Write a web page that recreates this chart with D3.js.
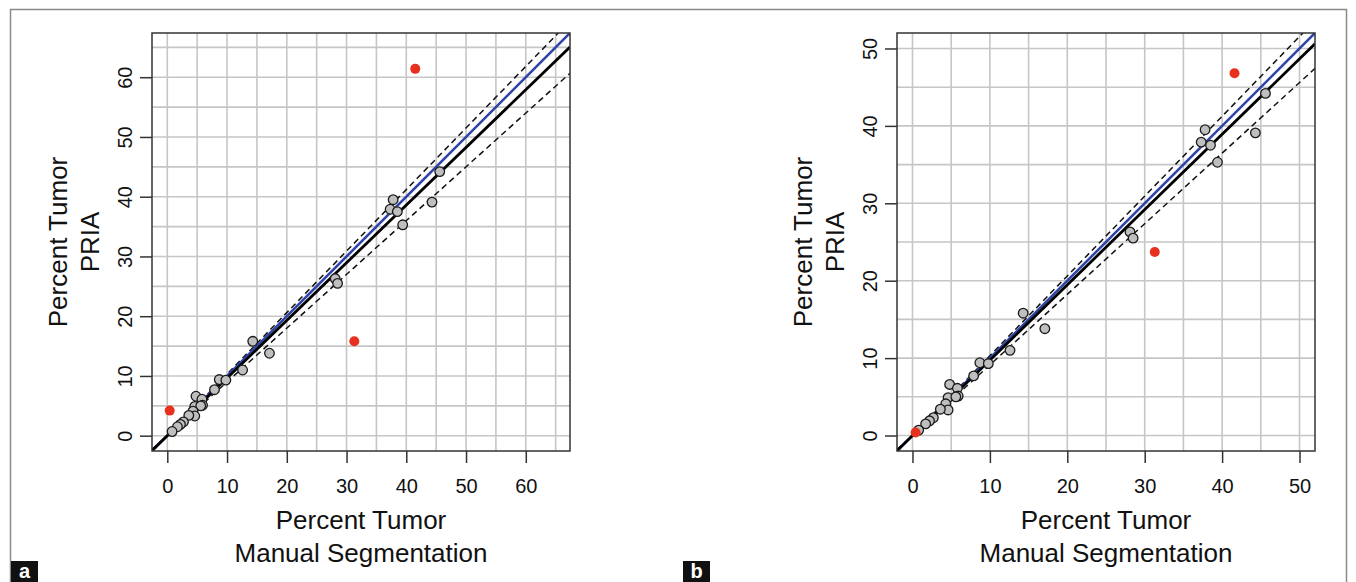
<!DOCTYPE html>
<html>
<head>
<meta charset="utf-8">
<script src="https://cdn.jsdelivr.net/npm/d3@7"></script>
<style>
  body { margin: 0; background: #fff; }
  svg { display: block; font-family: "Liberation Sans", Arial, sans-serif; }
</style>
</head>
<body>
<div id="chart"></div>
<script>
// points shared by both panels (manual segmentation vs PRIA, percent tumor)
var grayManual = [45.6, 44.3, 37.8, 37.3, 38.5, 39.4, 28.1, 28.5, 14.3, 17.1, 12.6, 8.7, 9.8, 7.9, 4.8, 5.8, 5.9, 4.6, 5.6, 4.3, 4.6, 3.6, 2.7, 2.2, 1.7, 0.8];
var grayPria   = [44.2, 39.1, 39.5, 37.9, 37.5, 35.3, 26.3, 25.5, 15.8, 13.8, 11.0, 9.4, 9.3, 7.7, 6.6, 6.1, 5.1, 4.9, 5.0, 4.1, 3.3, 3.4, 2.3, 1.9, 1.5, 0.7];

// outliers (red)
var redManualA = [41.5, 31.3, 0.4];
var redPriaA   = [61.4, 15.8, 4.2];
var redManualB = [41.6, 31.3, 0.4];
var redPriaB   = [46.8, 23.7, 0.4];

// fitted line slopes: [lower dashed, fit, upper dashed]
var slopesA = [0.90, 0.965, 1.03];
var slopesB = [0.912, 0.973, 1.031];

var ticksA = [0, 10, 20, 30, 40, 50, 60];
var ticksB = [0, 10, 20, 30, 40, 50];
var gridA = d3.range(0, 70, 5);
var gridB = d3.range(0, 55, 5);

var W = 1356, H = 582;
var svg = d3.select("#chart").append("svg")
  .attr("width", W)
  .attr("height", H);

// outer frame
svg.append("path")
  .attr("d", "M10.5,590 L10.5,9.5 L1346.5,9.5 L1346.5,590")
  .attr("fill", "none")
  .attr("stroke", "#8a8a8a")
  .attr("stroke-width", 1.5);

function panel(opt) {
  var g = svg.append("g");
  var x = d3.scaleLinear().domain(opt.domain).range([opt.left, opt.left + 418]);
  var y = d3.scaleLinear().domain(opt.domain).range([451, 33]);
  var id = "clip" + opt.name;

  g.append("clipPath").attr("id", id)
    .append("rect")
    .attr("x", x.range()[0]).attr("y", 33)
    .attr("width", 418).attr("height", 418);

  // grid
  g.selectAll(".vg").data(opt.grid).enter().append("line")
    .attr("x1", function(d) { return x(d); }).attr("x2", function(d) { return x(d); })
    .attr("y1", 33).attr("y2", 451)
    .attr("stroke", "#c6c6c6").attr("stroke-width", 1.6);
  g.selectAll(".hg").data(opt.grid).enter().append("line")
    .attr("y1", function(d) { return y(d); }).attr("y2", function(d) { return y(d); })
    .attr("x1", x.range()[0]).attr("x2", x.range()[1])
    .attr("stroke", "#c6c6c6").attr("stroke-width", 1.6);

  var lines = g.append("g").attr("clip-path", "url(#" + id + ")");
  var ends = opt.domain;
  function lineFor(s) {
    return d3.line()
      .x(function(d) { return x(d); })
      .y(function(d) { return y(d * s); })(ends);
  }
  // dashed bands
  [opt.slopes[0], opt.slopes[2]].forEach(function(s) {
    lines.append("path").attr("d", lineFor(s))
      .attr("fill", "none").attr("stroke", "#111")
      .attr("stroke-width", 1.5).attr("stroke-dasharray", "6,4");
  });
  // identity line
  lines.append("path").attr("d", lineFor(1))
    .attr("fill", "none").attr("stroke", "#2f45a6").attr("stroke-width", 2.6);
  // fit line
  lines.append("path").attr("d", lineFor(opt.slopes[1]))
    .attr("fill", "none").attr("stroke", "#000").attr("stroke-width", 2.8);

  // points
  var pts = grayManual.map(function(v, i) { return [v, grayPria[i]]; });
  g.selectAll(".pt").data(pts).enter().append("circle")
    .attr("cx", function(d) { return x(d[0]); })
    .attr("cy", function(d) { return y(d[1]); })
    .attr("r", 4.8)
    .attr("fill", "#bfbfbf").attr("stroke", "#1a1a1a").attr("stroke-width", 1.3);
  var reds = opt.redX.map(function(v, i) { return [v, opt.redY[i]]; });
  g.selectAll(".red").data(reds).enter().append("circle")
    .attr("cx", function(d) { return x(d[0]); })
    .attr("cy", function(d) { return y(d[1]); })
    .attr("r", 5)
    .attr("fill", "#e8301f");

  // box
  g.append("rect")
    .attr("x", x.range()[0]).attr("y", 33)
    .attr("width", 418).attr("height", 418)
    .attr("fill", "none").attr("stroke", "#333").attr("stroke-width", 1.5);

  // axes
  var xa = g.append("g").attr("transform", "translate(0,451)")
    .call(d3.axisBottom(x).tickValues(opt.ticks).tickSize(12).tickPadding(16).tickFormat(d3.format("d")));
  xa.select(".domain").remove();
  xa.selectAll("line").attr("stroke", "#333").attr("stroke-width", 1.5);
  xa.selectAll("text").attr("font-size", 20).attr("fill", "#111").attr("font-family", "Liberation Sans, Arial, sans-serif");

  var ya = g.append("g").attr("transform", "translate(" + x.range()[0] + ",0)")
    .call(d3.axisLeft(y).tickValues(opt.ticks).tickSize(12).tickFormat(d3.format("d")));
  ya.select(".domain").remove();
  ya.selectAll("line").attr("stroke", "#333").attr("stroke-width", 1.5);
  ya.selectAll("text")
    .attr("x", null).attr("dy", null)
    .attr("text-anchor", "middle")
    .attr("transform", "translate(-20,0) rotate(-90)")
    .attr("font-size", 20).attr("fill", "#111").attr("font-family", "Liberation Sans, Arial, sans-serif");

  // titles
  var cx = (x.range()[0] + x.range()[1]) / 2;
  g.append("text").attr("x", cx).attr("y", 529).attr("text-anchor", "middle")
    .attr("font-size", 26).attr("fill", "#111").text("Percent Tumor");
  g.append("text").attr("x", cx).attr("y", 562).attr("text-anchor", "middle")
    .attr("font-size", 26).attr("fill", "#111").text("Manual Segmentation");
  var cy = 242;
  g.append("text").attr("transform", "translate(" + (x.range()[0] - 85) + "," + cy + ") rotate(-90)")
    .attr("text-anchor", "middle").attr("font-size", 26).attr("fill", "#111").text("Percent Tumor");
  g.append("text").attr("transform", "translate(" + (x.range()[0] - 53) + "," + cy + ") rotate(-90)")
    .attr("text-anchor", "middle").attr("font-size", 26).attr("fill", "#111").text("PRIA");

  // panel letter
  svg.append("rect").attr("x", opt.tagX).attr("y", 561).attr("width", 27).attr("height", 22).attr("fill", "#111");
  svg.append("text").attr("x", opt.tagX + 13.5).attr("y", 578).attr("text-anchor", "middle")
    .attr("font-size", 20).attr("font-weight", "bold").attr("fill", "#fff").text(opt.name);
}

panel({ name: "a", left: 152, domain: [-2.56, 67.4], ticks: ticksA, grid: gridA,
  slopes: slopesA, redX: redManualA, redY: redPriaA, tagX: 11 });
panel({ name: "b", left: 897, domain: [-2, 52], ticks: ticksB, grid: gridB,
  slopes: slopesB, redX: redManualB, redY: redPriaB, tagX: 683 });
</script>
</body>
</html>
